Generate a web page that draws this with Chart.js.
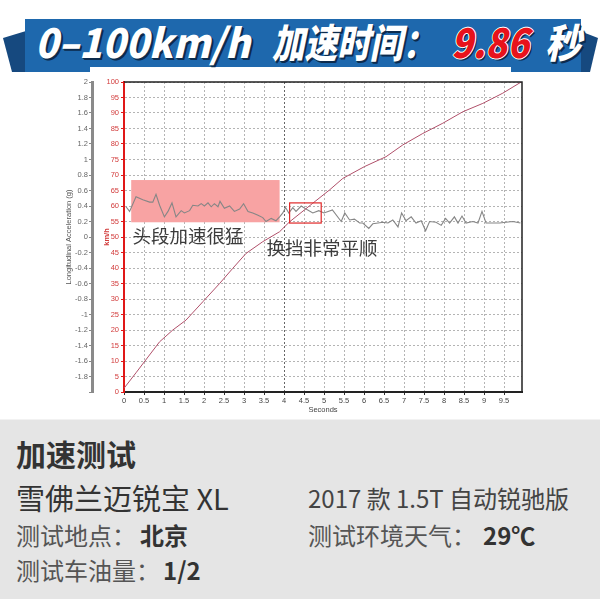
<!DOCTYPE html>
<html lang="zh-CN">
<head>
<meta charset="UTF-8">
<title>0-100km/h 加速时间</title>
<style>
  html, body { margin: 0; padding: 0; }
  body {
    width: 600px; height: 599px; position: relative; overflow: hidden;
    background: #fff; font-family: "Noto Sans CJK SC", sans-serif;
  }
  /* header ribbon */
  .fold { position: absolute; top: 0; height: 72px; background: #16497f; }
  .fold.l { left: 0; width: 30px; clip-path: polygon(3px 38px, 26px 31px, 26px 72px, 12px 72px); }
  .fold.r { left: 575px; width: 25px; clip-path: polygon(5px 31px, 23px 38px, 15px 72px, 5px 72px); }
  .band { position: absolute; left: 25px; top: 19px; width: 556px; height: 53px; background: #1e68ad; }
  .tab { position: absolute; left: 90px; top: 67px; width: 421px; height: 5px; background: #fff; }
  .ht {
    position: absolute; top: 21px; font-size: 40px; line-height: 1; font-weight: 900;
    font-style: italic; color: #fff; white-space: nowrap; transform-origin: 0 0;
    text-shadow: 1px 1px 0 #0c2b4d, 2px 2px 0 #0c2b4d;
  }
  .ht.red {
    color: #e8121b;
    text-shadow: -1px 0 0 #fff, 1px 0 0 #fff, 0 -1px 0 #fff, 0 1px 0 #fff, 2px 2px 0 #0c2b4d;
  }
  #accelChart { position: absolute; left: 0; top: 70px; }
  /* info panel */
  .panel { position: absolute; left: 0; top: 419px; width: 600px; height: 180px; background: #e5e5e5; border-top: 1px solid #f2f2f2; }
  .t { position: absolute; line-height: 1; white-space: nowrap; color: #555; }
  .t b { color: #333; font-weight: 700; }
</style>
</head>
<body>

<div class="fold l"></div>
<div class="fold r"></div>
<div class="band"></div>
<div class="tab"></div>
<span class="ht" id="h1" style="left:35px">0–100km/h</span>
<span class="ht" id="h2" style="left:272px">加速时间：</span>
<span class="ht red" id="h3" style="left:451px">9.86</span>
<span class="ht" id="h4" style="left:545px">秒</span>

<canvas id="accelChart" width="600" height="350"></canvas>

<div class="panel"></div>
<div class="t" style="left:16px;top:438px;font-size:30px;font-weight:700;color:#333">加速测试</div>
<div class="t" style="left:16px;top:483px;font-size:29px;color:#333">雪佛兰迈锐宝 XL</div>
<div class="t" style="left:308px;top:486px;font-size:24px;color:#444">2017 款 1.5T 自动锐驰版</div>
<div class="t" style="left:16px;top:523px;font-size:24px">测试地点：<b style="margin-left:4px">北京</b></div>
<div class="t" style="left:308px;top:523px;font-size:24px">测试环境天气：<b style="margin-left:7px">29℃</b></div>
<div class="t" style="left:16px;top:558px;font-size:24px">测试车油量：<b style="margin-left:3px">1/2</b></div>

<script src="https://cdn.jsdelivr.net/npm/chart.js"></script>
<script>
    // speed trace (km/h against seconds)
    var speedTime = [0, 0.3, 0.6, 0.89, 1.22, 1.55, 1.97, 2.39, 2.72, 3.05, 3.47, 3.89, 4.14,
        4.72, 5.14, 5.47, 6.01, 6.55, 6.97, 7.47, 7.97, 8.47, 8.97, 9.47, 9.93];
    var speedKmh = [1.2, 6.2, 11.3, 16.2, 20, 23.2, 29.1, 35, 39.9, 44.7, 48.5, 51.7, 54.9,
        60.9, 65.2, 68.9, 72.7, 75.9, 79.7, 83.4, 86.7, 90.4, 93.1, 96.4, 100];

    // longitudinal acceleration trace (g against seconds)
    var accelTime = [0.05, 0.14, 0.30, 0.47, 0.64, 0.72, 0.80, 0.89, 1.01, 1.10, 1.20, 1.30, 1.43,
        1.51, 1.64, 1.72, 1.85, 1.93, 2.01, 2.10, 2.18, 2.26, 2.35, 2.40, 2.51, 2.64, 2.76, 2.89,
        2.99, 3.10, 3.22, 3.35, 3.47, 3.55, 3.68, 3.80, 3.89, 3.97, 4.04, 4.12, 4.22, 4.30, 4.43,
        4.55, 4.72, 4.87, 5.00, 5.21, 5.43, 5.52, 5.64, 5.76, 5.89, 5.97, 6.12, 6.22, 6.35, 6.47,
        6.60, 6.72, 6.85, 6.94, 7.05, 7.18, 7.30, 7.43, 7.54, 7.64, 7.80, 7.93, 8.04, 8.14, 8.26,
        8.35, 8.45, 8.55, 8.72, 8.85, 8.95, 9.05, 9.22, 9.39, 9.55, 9.72, 9.91];
    var accelG = [0.39, 0.33, 0.52, 0.48, 0.45, 0.45, 0.55, 0.41, 0.26, 0.33, 0.44, 0.26, 0.34,
        0.31, 0.34, 0.41, 0.40, 0.43, 0.40, 0.44, 0.39, 0.43, 0.39, 0.46, 0.37, 0.40, 0.33, 0.36,
        0.43, 0.33, 0.31, 0.28, 0.25, 0.20, 0.24, 0.21, 0.26, 0.31, 0.38, 0.31, 0.38, 0.33, 0.40,
        0.36, 0.31, 0.34, 0.31, 0.35, 0.20, 0.31, 0.22, 0.23, 0.18, 0.18, 0.11, 0.17, 0.18, 0.19,
        0.18, 0.22, 0.13, 0.31, 0.21, 0.26, 0.18, 0.21, 0.08, 0.20, 0.19, 0.15, 0.24, 0.18, 0.26,
        0.18, 0.27, 0.18, 0.20, 0.18, 0.33, 0.18, 0.18, 0.18, 0.19, 0.20, 0.18];

    // highlighted regions: [t start, t end, g low, g high]
    var launchBox = [0.18, 3.89, 0.19, 0.735];
    var shiftBox = [4.14, 4.93, 0.18, 0.44];
    var noteTexts = ['头段加速很猛', '换挡非常平顺'];
    var noteTime = [0.21, 3.56];
    var noteG = [0.01, -0.14];

    function fitWidth(id, w) {
        var el = document.getElementById(id);
        var r = el.getBoundingClientRect().width;
        el.style.transform = 'scaleX(' + (w / r).toFixed(3) + ')';
    }
    fitWidth('h1', 215);
    fitWidth('h2', 163);
    fitWidth('h3', 78);
    fitWidth('h4', 36);

    function toPoints(xs, ys) {
        return xs.map(function (x, i) { return { x: x, y: ys[i] }; });
    }
    function fmt(v) { return String(Math.round(v * 10) / 10); }

    var tickFont = { family: 'Liberation Sans', size: 7.5 };

    // boxes, notes and the top/right frame
    var notesPlugin = {
        id: 'notes',
        beforeDatasetsDraw: function (chart) {
            var x = chart.scales.x, g = chart.scales.g, c = chart.ctx;
            var l = x.getPixelForValue(launchBox[0]), r = x.getPixelForValue(launchBox[1]);
            var t = g.getPixelForValue(launchBox[3]), b = g.getPixelForValue(launchBox[2]);
            c.save();
            c.fillStyle = '#f8a3a3';
            c.fillRect(l, t, r - l, b - t);
            c.restore();
        },
        afterDatasetsDraw: function (chart) {
            var x = chart.scales.x, g = chart.scales.g, c = chart.ctx;
            var l = x.getPixelForValue(shiftBox[0]), r = x.getPixelForValue(shiftBox[1]);
            var t = g.getPixelForValue(shiftBox[3]), b = g.getPixelForValue(shiftBox[2]);
            c.save();
            c.strokeStyle = '#e02828';
            c.lineWidth = 1.2;
            c.strokeRect(l, t, r - l, b - t);
            c.fillStyle = '#3c3c3c';
            c.font = '18.5px "Noto Sans CJK SC"';
            c.textBaseline = 'middle';
            for (var i = 0; i < noteTexts.length; i++) {
                c.fillText(noteTexts[i], x.getPixelForValue(noteTime[i]), g.getPixelForValue(noteG[i]));
            }
            c.restore();
        },
        afterDraw: function (chart) {
            var a = chart.chartArea, c = chart.ctx;
            c.save();
            c.strokeStyle = '#222';
            c.lineWidth = 1.5;
            c.beginPath();
            c.moveTo(a.left, a.top);
            c.lineTo(a.right, a.top);
            c.lineTo(a.right, a.bottom);
            c.stroke();
            c.restore();
        }
    };

    var ctx = document.getElementById('accelChart').getContext('2d');
    var accelChart = new Chart(ctx, {
        type: 'line',
        data: {
            datasets: [{
                label: 'km/h',
                data: toPoints(speedTime, speedKmh),
                yAxisID: 'y',
                borderColor: '#b0506a',
                borderWidth: 1,
                pointRadius: 0,
                tension: 0
            }, {
                label: 'Longitudinal Acceleration (g)',
                data: toPoints(accelTime, accelG),
                yAxisID: 'g',
                borderColor: '#868686',
                borderWidth: 1.1,
                pointRadius: 0,
                tension: 0
            }]
        },
        options: {
            responsive: false,
            animation: false,
            layout: { padding: { left: 0, top: 12, right: 78, bottom: 6 } },
            plugins: { legend: { display: false }, tooltip: { enabled: false } },
            scales: {
                x: {
                    type: 'linear',
                    min: 0,
                    max: 9.95,
                    afterFit: function (s) { s.height = 22; },
                    ticks: { stepSize: 0.5, includeBounds: false, padding: 1, color: '#444', font: tickFont,
                        maxRotation: 0, autoSkip: false, callback: fmt },
                    grid: {
                        color: function (c) { return c.tick && c.tick.value === 4 ? '#666' : '#b4b4b4'; },
                        tickColor: '#333', tickLength: 3, lineWidth: 1
                    },
                    border: { color: '#222', width: 2, dash: [2, 2] },
                    title: { display: true, text: 'Seconds', color: '#444', font: tickFont, padding: 0 }
                },
                y: {
                    position: 'left',
                    weight: 0,
                    min: 0,
                    max: 100,
                    afterFit: function (s) { s.width = 32; },
                    ticks: { stepSize: 5, padding: 2, color: '#d23c3c', font: tickFont },
                    grid: { color: '#b4b4b4', tickColor: '#e01818', tickLength: 3, lineWidth: 1 },
                    border: { color: '#e01818', width: 2, dash: [2, 2] },
                    title: { display: true, text: 'km/h', color: '#d23c3c',
                        font: { family: 'Liberation Sans', size: 7.5, weight: 'bold' }, padding: { top: 10 } }
                },
                g: {
                    position: 'left',
                    weight: 1,
                    min: -2,
                    max: 2,
                    afterFit: function (s) { s.width = 92; },
                    ticks: { stepSize: 0.2, padding: 1, color: '#666', font: tickFont,
                        callback: function (v) { return v < -1.99 ? '' : fmt(v); } },
                    grid: { drawOnChartArea: false, tickColor: '#888', tickLength: 3 },
                    border: { color: '#8a8a8a', width: 3 },
                    title: { display: true, text: 'Longitudinal Acceleration (g)', color: '#555',
                        font: tickFont, padding: { top: 64 } }
                }
            }
        },
        plugins: [notesPlugin]
    });
</script>

</body>
</html>
